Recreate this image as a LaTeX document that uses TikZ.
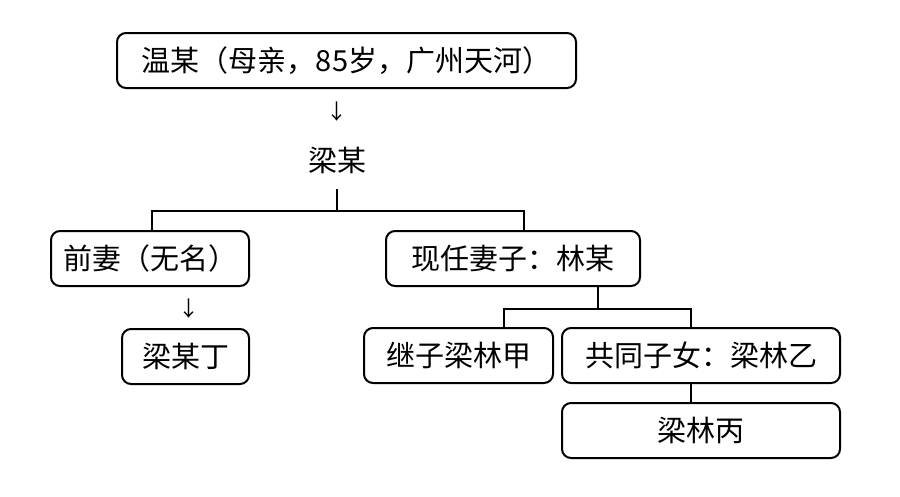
\documentclass[tikz,border=0pt]{standalone}
\usepackage{fontspec}
\setmainfont{Noto Sans CJK SC}
\begin{document}
\begin{tikzpicture}[x=1pt,y=-1pt,
  box/.style={draw=black,line width=2pt,rounded corners=9pt,inner sep=0pt,
    minimum height=55pt,font=\fontsize{29}{34}\selectfont,text=black},
  plain/.style={inner sep=0pt,font=\fontsize{29}{34}\selectfont,text=black},
  arrowtxt/.style={inner sep=0pt,font=\fontsize{21}{24}\selectfont,text=black},
  link/.style={draw=black,line width=2pt}]
\fill[white] (0,0) rectangle (900,496);
\useasboundingbox (0,0) rectangle (900,496);
\node[box,minimum width=459pt] (wen) at (346.5,60.5) {温某（母亲，85岁，广州天河）};
\node[arrowtxt] (arr1) at (337,112) {↓};
\node[plain] (liang) at (337,160) {梁某};
\node[box,minimum width=198pt] (qianqi) at (150,258.5) {前妻（无名）};
\node[box,minimum width=254pt] (xianren) at (513,258.5) {现任妻子：林某};
\node[arrowtxt] (arr2) at (189,308.5) {↓};
\node[box,minimum width=127pt] (ding) at (185.5,356.5) {梁某丁};
\node[box,minimum width=189pt] (jizi) at (458.5,355.5) {继子梁林甲};
\node[box,minimum width=278pt] (yi) at (701,355.5) {共同子女：梁林乙};
\node[box,minimum width=278pt] (bing) at (701,430.5) {梁林丙};
\coordinate (j1) at (337,211);
\coordinate (j2) at (598,309);
\draw[link] (liang.south |- 0,189) -- (j1);
\draw[link] ([xshift=2pt]qianqi.north) |- (j1) -| ([xshift=11pt]xianren.north);
\draw[link] ([xshift=85pt]xianren.south) -- (j2);
\draw[link] ([xshift=45.5pt]jizi.north) |- (j2) -| ([xshift=-10pt]yi.north);
\draw[link] ([xshift=-10pt]yi.south) -- ([xshift=-10pt]bing.north);
\end{tikzpicture}
\end{document}
